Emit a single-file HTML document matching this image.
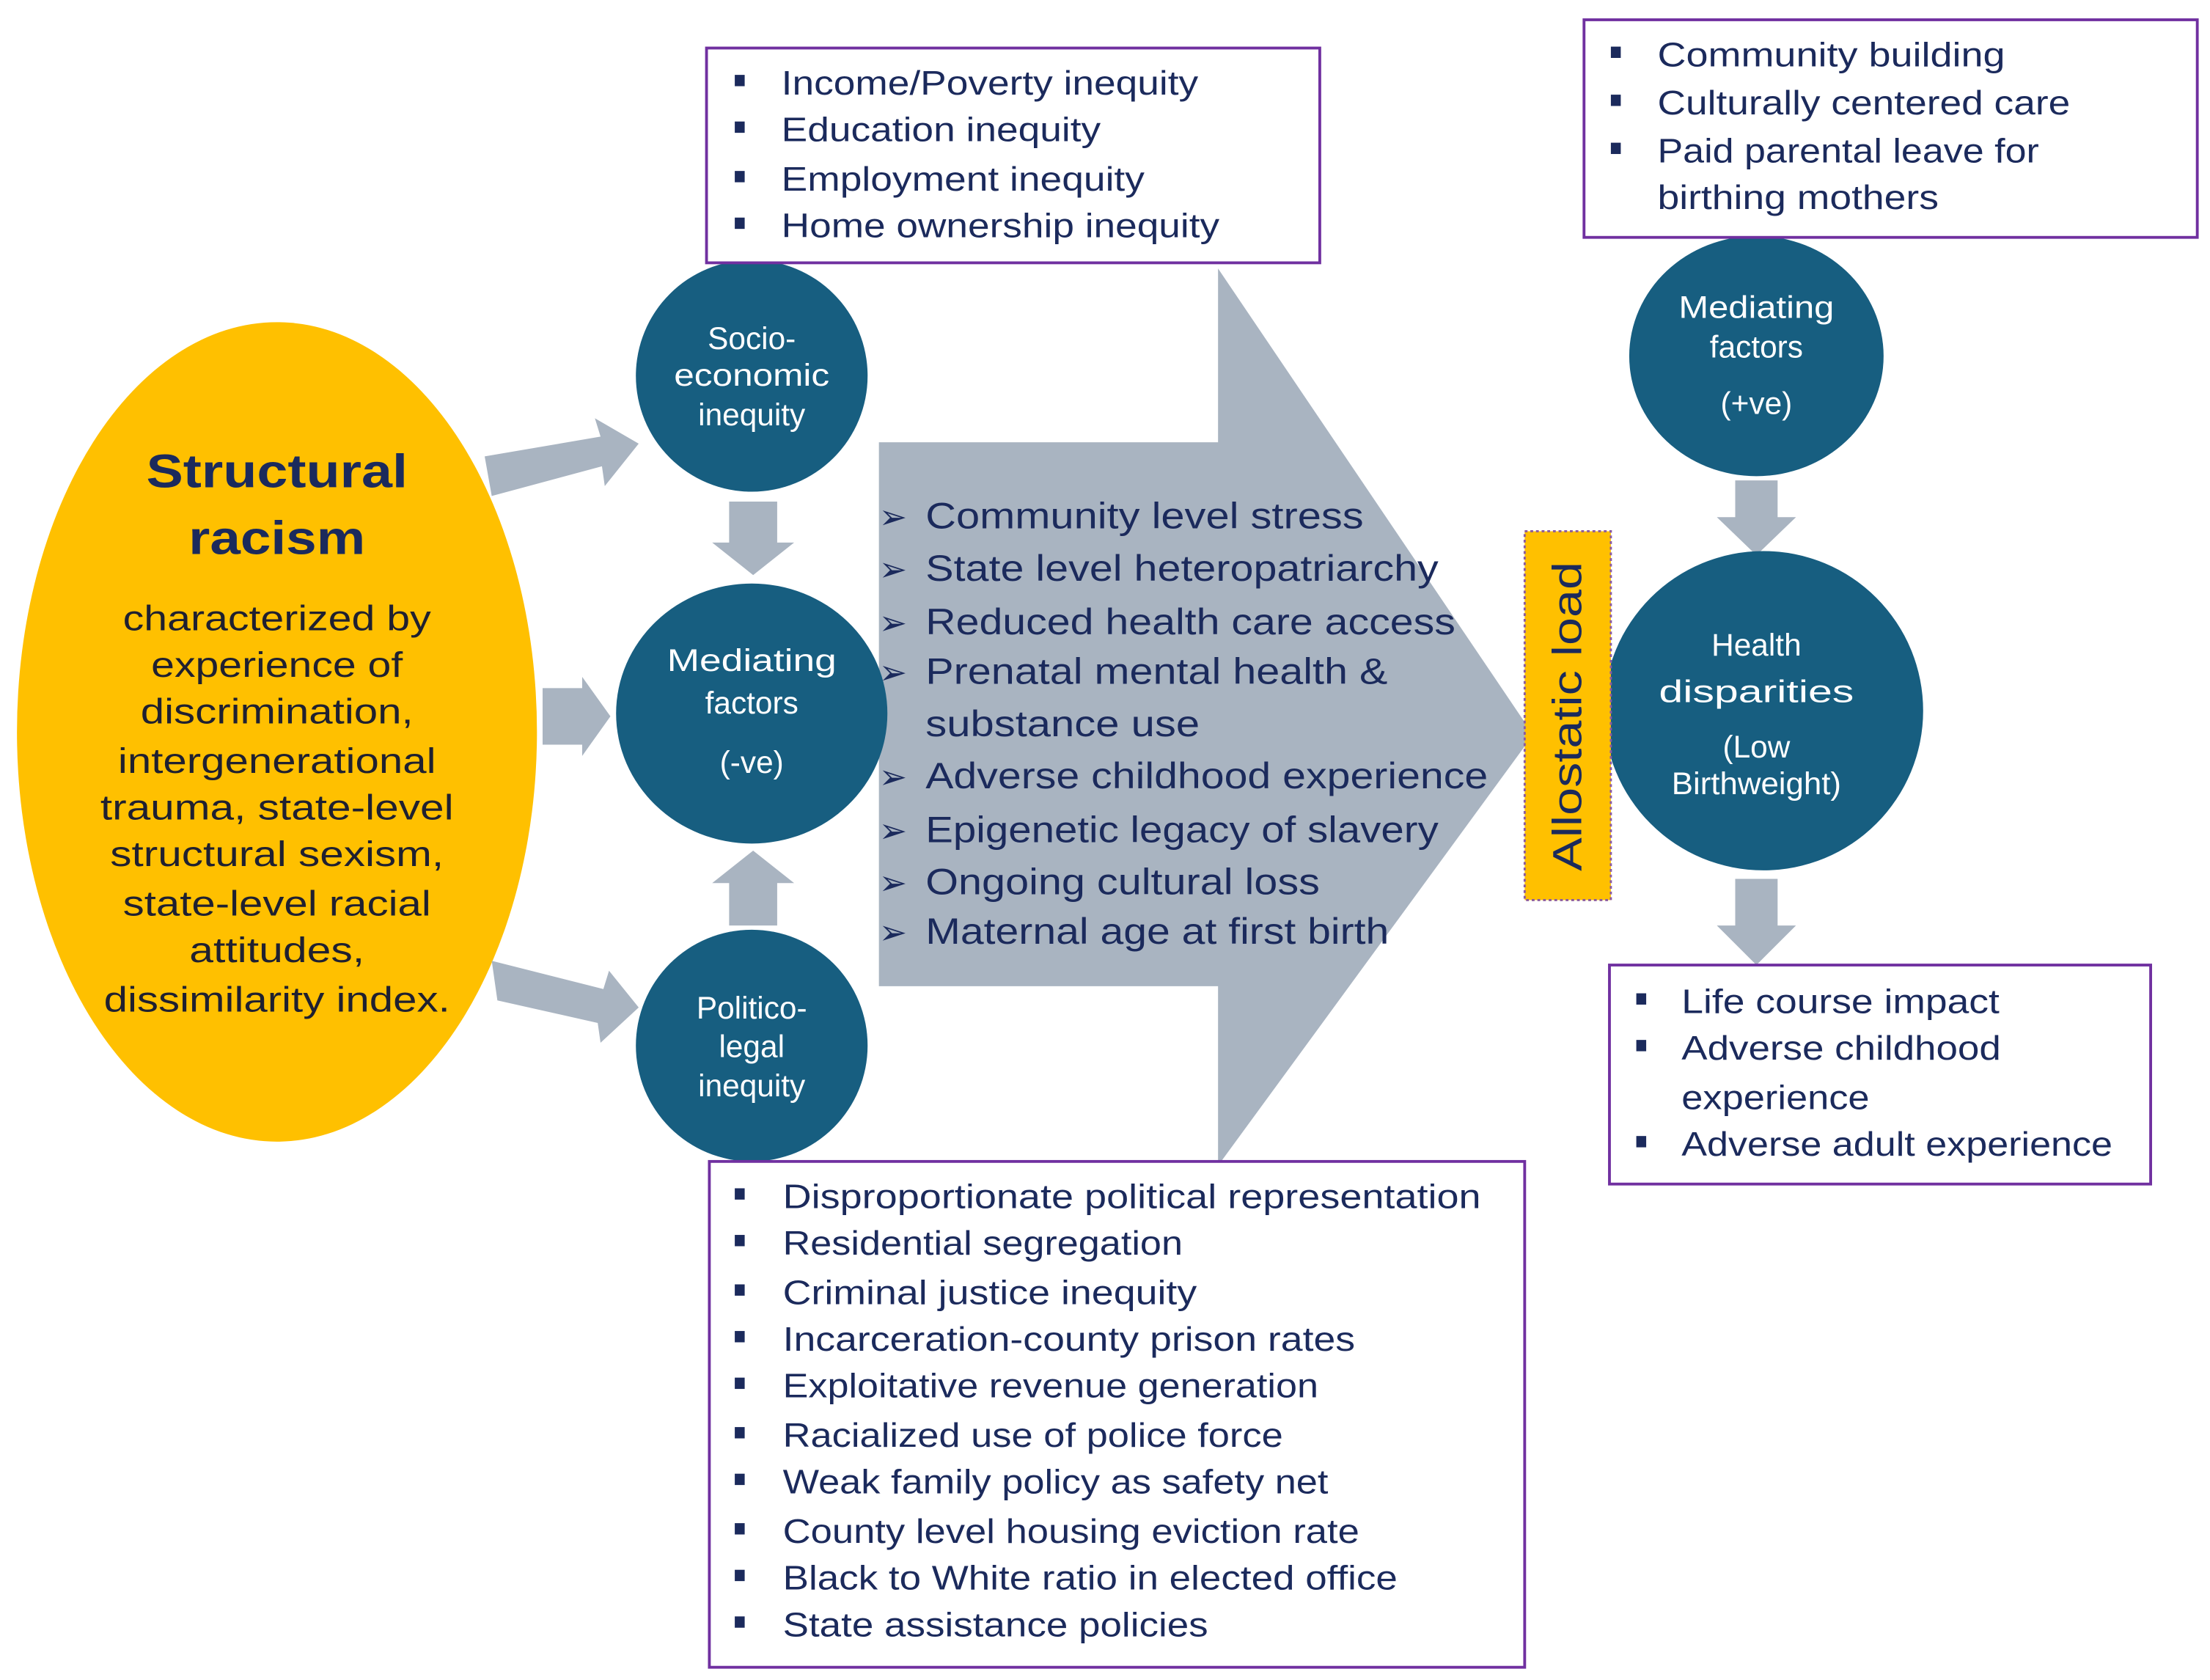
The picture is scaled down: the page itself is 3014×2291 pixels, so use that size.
<!DOCTYPE html>
<html><head><meta charset="utf-8"><style>
html,body{margin:0;padding:0;background:#fff;}
svg{display:block;}
text{font-family:"Liberation Sans",sans-serif;}
.b{fill:#1B2A5C;font-size:24px;}
.sq{fill:#1B2A5C;}
.w{fill:#fff;font-size:22px;text-anchor:middle;}
.e{fill:#1F2030;font-size:25px;text-anchor:middle;}
</style></head><body>
<svg width="3014" height="2291" viewBox="0 0 1564 1189" preserveAspectRatio="none" xmlns="http://www.w3.org/2000/svg">
<rect width="1564" height="1189" fill="#fff"/>
<!-- big arrow -->
<polygon points="622,313 862,313 862,190 1085,520 862,825 862,698 622,698" fill="#A9B4C1"/>
<!-- ellipse -->
<ellipse cx="196" cy="518" rx="184" ry="290" fill="#FFC000"/>
<text x="196" y="345" text-anchor="middle" font-size="33" font-weight="bold" fill="#1B2A5C" textLength="185" lengthAdjust="spacingAndGlyphs">Structural</text>
<text x="196" y="392" text-anchor="middle" font-size="33" font-weight="bold" fill="#1B2A5C" textLength="125" lengthAdjust="spacingAndGlyphs">racism</text>
<text class="e" x="196" y="446" textLength="218" lengthAdjust="spacingAndGlyphs">characterized by</text>
<text class="e" x="196" y="479" textLength="178" lengthAdjust="spacingAndGlyphs">experience of</text>
<text class="e" x="196" y="512" textLength="193" lengthAdjust="spacingAndGlyphs">discrimination,</text>
<text class="e" x="196" y="547" textLength="225" lengthAdjust="spacingAndGlyphs">intergenerational</text>
<text class="e" x="196" y="580" textLength="250" lengthAdjust="spacingAndGlyphs">trauma, state-level</text>
<text class="e" x="196" y="613" textLength="236" lengthAdjust="spacingAndGlyphs">structural sexism,</text>
<text class="e" x="196" y="648" textLength="218" lengthAdjust="spacingAndGlyphs">state-level racial</text>
<text class="e" x="196" y="681" textLength="124" lengthAdjust="spacingAndGlyphs">attitudes,</text>
<text class="e" x="196" y="716" textLength="245" lengthAdjust="spacingAndGlyphs">dissimilarity index.</text>
<!-- small arrows -->
<polygon points="343,323 425,309 421,296 452,314 428,344 426,330 348,351" fill="#A9B4C1"/>
<polygon points="384,487 412,487 412,479 432,507 412,535 412,527 384,527" fill="#A9B4C1"/>
<polygon points="348,680 427,700 431,687 452,713 425,738 423,724 352,708" fill="#A9B4C1"/>
<polygon points="516,355 550,355 550,384 562,384 533,407 504,384 516,384" fill="#A9B4C1"/>
<polygon points="516,655 550,655 550,625 562,625 533,602 504,625 516,625" fill="#A9B4C1"/>
<polygon points="1228,340 1258,340 1258,366 1271,366 1243,393 1215,366 1228,366" fill="#A9B4C1"/>
<polygon points="1228,622 1258,622 1258,655 1271,655 1243,683 1215,655 1228,655" fill="#A9B4C1"/>
<!-- circles -->
<ellipse cx="532" cy="266" rx="82" ry="82" fill="#175E80"/>
<text class="w" x="532" y="247">Socio-</text>
<text class="w" x="532" y="273" textLength="110" lengthAdjust="spacingAndGlyphs">economic</text>
<text class="w" x="532" y="301">inequity</text>
<ellipse cx="532" cy="505" rx="96" ry="92" fill="#175E80"/>
<text class="w" x="532" y="475" textLength="120" lengthAdjust="spacingAndGlyphs">Mediating</text>
<text class="w" x="532" y="505">factors</text>
<text class="w" x="532" y="547">(-ve)</text>
<ellipse cx="532" cy="740" rx="82" ry="82" fill="#175E80"/>
<text class="w" x="532" y="721">Politico-</text>
<text class="w" x="532" y="748">legal</text>
<text class="w" x="532" y="776">inequity</text>
<ellipse cx="1243" cy="252" rx="90" ry="85" fill="#175E80"/>
<text class="w" x="1243" y="225" textLength="110" lengthAdjust="spacingAndGlyphs">Mediating</text>
<text class="w" x="1243" y="253">factors</text>
<text class="w" x="1243" y="293">(+ve)</text>
<ellipse cx="1248" cy="503" rx="113" ry="113" fill="#175E80"/>
<text class="w" x="1243" y="464" font-size="27">Health</text>
<text class="w" x="1243" y="497" font-size="27" textLength="138" lengthAdjust="spacingAndGlyphs">disparities</text>
<text class="w" x="1243" y="536" font-size="17">(Low</text>
<text class="w" x="1243" y="562" font-size="17" textLength="120" lengthAdjust="spacingAndGlyphs">Birthweight)</text>
<!-- allostatic load -->
<rect x="1079" y="376" width="61" height="261" fill="#FFC000" stroke="#8a5aa0" stroke-width="1.5" stroke-dasharray="2,2"/>
<text x="0" y="0" transform="translate(1119,507) rotate(-90)" text-anchor="middle" font-size="29" fill="#1B2A5C" textLength="219" lengthAdjust="spacingAndGlyphs">Allostatic load</text>
<!-- arrow list -->
<g class="b" font-size="26">
<text x="622" y="374" font-size="24">➢</text><text x="655" y="374" font-size="26" textLength="310" lengthAdjust="spacingAndGlyphs">Community level stress</text>
<text x="622" y="411" font-size="24">➢</text><text x="655" y="411" font-size="26" textLength="363" lengthAdjust="spacingAndGlyphs">State level heteropatriarchy</text>
<text x="622" y="449" font-size="24">➢</text><text x="655" y="449" font-size="26" textLength="375" lengthAdjust="spacingAndGlyphs">Reduced health care access</text>
<text x="622" y="484" font-size="24">➢</text><text x="655" y="484" font-size="26" textLength="327" lengthAdjust="spacingAndGlyphs">Prenatal mental health &amp;</text>
<text x="655" y="521" font-size="26" textLength="194" lengthAdjust="spacingAndGlyphs">substance use</text>
<text x="622" y="558" font-size="24">➢</text><text x="655" y="558" font-size="26" textLength="398" lengthAdjust="spacingAndGlyphs">Adverse childhood experience</text>
<text x="622" y="596" font-size="24">➢</text><text x="655" y="596" font-size="26" textLength="363" lengthAdjust="spacingAndGlyphs">Epigenetic legacy of slavery</text>
<text x="622" y="633" font-size="24">➢</text><text x="655" y="633" font-size="26" textLength="279" lengthAdjust="spacingAndGlyphs">Ongoing cultural loss</text>
<text x="622" y="668" font-size="24">➢</text><text x="655" y="668" font-size="26" textLength="328" lengthAdjust="spacingAndGlyphs">Maternal age at first birth</text>
</g>
<!-- boxes -->
<g fill="#fff" stroke="#7030A0" stroke-width="2">
<rect x="500" y="34" width="434" height="152"/>
<rect x="1121" y="14" width="434" height="154"/>
<rect x="1139" y="683" width="383" height="155"/>
<rect x="502" y="822" width="577" height="358"/>
</g>
<g class="sq">
<rect x="520" y="53" width="7" height="8"/><rect x="520" y="86" width="7" height="8"/><rect x="520" y="121" width="7" height="8"/><rect x="520" y="154" width="7" height="8"/>
<rect x="1140" y="33" width="7" height="8"/><rect x="1140" y="67" width="7" height="8"/><rect x="1140" y="101" width="7" height="8"/>
<rect x="1158" y="703" width="7" height="8"/><rect x="1158" y="736" width="7" height="8"/><rect x="1158" y="804" width="7" height="8"/>
<rect x="520" y="841" width="7" height="8"/><rect x="520" y="874" width="7" height="8"/><rect x="520" y="909" width="7" height="8"/><rect x="520" y="942" width="7" height="8"/><rect x="520" y="975" width="7" height="8"/><rect x="520" y="1010" width="7" height="8"/><rect x="520" y="1043" width="7" height="8"/><rect x="520" y="1078" width="7" height="8"/><rect x="520" y="1111" width="7" height="8"/><rect x="520" y="1144" width="7" height="8"/>
</g>
<g class="b">
<text x="553" y="67" textLength="295" lengthAdjust="spacingAndGlyphs">Income/Poverty inequity</text>
<text x="553" y="100" textLength="226" lengthAdjust="spacingAndGlyphs">Education inequity</text>
<text x="553" y="135" textLength="257" lengthAdjust="spacingAndGlyphs">Employment inequity</text>
<text x="553" y="168" textLength="310" lengthAdjust="spacingAndGlyphs">Home ownership inequity</text>
<text x="1173" y="47" textLength="246" lengthAdjust="spacingAndGlyphs">Community building</text>
<text x="1173" y="81" textLength="292" lengthAdjust="spacingAndGlyphs">Culturally centered care</text>
<text x="1173" y="115" textLength="270" lengthAdjust="spacingAndGlyphs">Paid parental leave for</text>
<text x="1173" y="148" textLength="199" lengthAdjust="spacingAndGlyphs">birthing mothers</text>
<text x="1190" y="717" textLength="225" lengthAdjust="spacingAndGlyphs">Life course impact</text>
<text x="1190" y="750" textLength="226" lengthAdjust="spacingAndGlyphs">Adverse childhood</text>
<text x="1190" y="785" textLength="133" lengthAdjust="spacingAndGlyphs">experience</text>
<text x="1190" y="818" textLength="305" lengthAdjust="spacingAndGlyphs">Adverse adult experience</text>
<text x="554" y="855" textLength="494" lengthAdjust="spacingAndGlyphs">Disproportionate political representation</text>
<text x="554" y="888" textLength="283" lengthAdjust="spacingAndGlyphs">Residential segregation</text>
<text x="554" y="923" textLength="293" lengthAdjust="spacingAndGlyphs">Criminal justice inequity</text>
<text x="554" y="956" textLength="405" lengthAdjust="spacingAndGlyphs">Incarceration-county prison rates</text>
<text x="554" y="989" textLength="379" lengthAdjust="spacingAndGlyphs">Exploitative revenue generation</text>
<text x="554" y="1024" textLength="354" lengthAdjust="spacingAndGlyphs">Racialized use of police force</text>
<text x="554" y="1057" textLength="386" lengthAdjust="spacingAndGlyphs">Weak family policy as safety net</text>
<text x="554" y="1092" textLength="408" lengthAdjust="spacingAndGlyphs">County level housing eviction rate</text>
<text x="554" y="1125" textLength="435" lengthAdjust="spacingAndGlyphs">Black to White ratio in elected office</text>
<text x="554" y="1158" textLength="301" lengthAdjust="spacingAndGlyphs">State assistance policies</text>
</g>
</svg>
</body></html>
